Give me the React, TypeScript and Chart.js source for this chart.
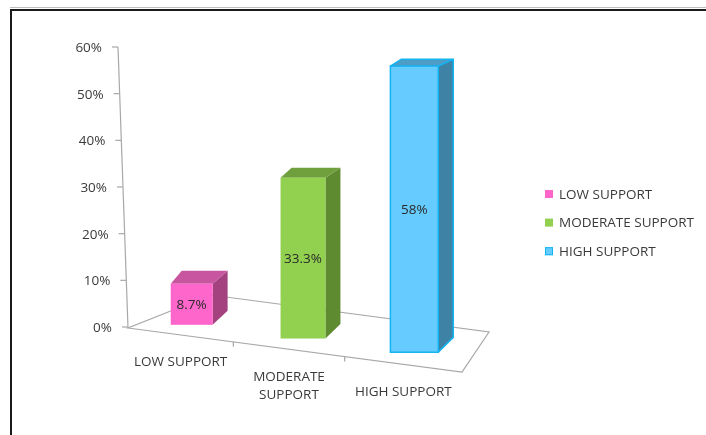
import React, { useEffect, useRef } from "react";
import { Chart, registerables } from "chart.js";

Chart.register(...registerables);

// ---- data ----
const categories = ["LOW SUPPORT", "MODERATE SUPPORT", "HIGH SUPPORT"];
const categoryLines = [["LOW SUPPORT"], ["MODERATE", "SUPPORT"], ["HIGH SUPPORT"]];
const values = [8.7, 33.3, 58];
const valueLabels = ["8.7%", "33.3%", "58%"];
const yTicks = [0, 10, 20, 30, 40, 50, 60];
const yTickLabels = ["0%", "10%", "20%", "30%", "40%", "50%", "60%"];

// ---- styles ----
const frontColors = ["#FF66CC", "#92D050", "#66CCFF"];
const topColors = ["#C8559F", "#709F3D", "#4E9DC6"];
const sideColors = ["#A3427F", "#5E8A30", "#3E82A6"];
const edgeColors = ["", "", "#12B4F2"];
const FONT = "13.5px 'Open Sans'";
const TEXT = "#3A3A3A";
const LINE = "#A8A8A8";

const excel3d = {
  id: "excel3d",
  beforeDatasetsDraw() {
    return false;
  },
  afterDraw(chart: any) {
    const ctx: CanvasRenderingContext2D = chart.ctx;
    const { left, right, top, bottom } = chart.chartArea;
    const xScale = chart.scales.x;
    const yScale = chart.scales.y;
    const slope = 0.1317;
    const frontY = (x: number) => bottom + 1 + slope * (x - left);

    ctx.save();
    // floor
    const fl = [left, bottom + 1];
    const fr = [right, frontY(right)];
    const br = [right + 27, frontY(right) - 40];
    const bl = [left + 83, bottom + 1 - 33];
    ctx.strokeStyle = LINE;
    ctx.lineWidth = 1.2;
    ctx.beginPath();
    ctx.moveTo(fl[0], fl[1]);
    ctx.lineTo(fr[0], fr[1]);
    ctx.lineTo(br[0], br[1]);
    ctx.lineTo(bl[0], bl[1]);
    ctx.closePath();
    ctx.stroke();

    // category boundaries (perspective-compressed)
    const n = categories.length;
    const bounds: number[] = [left];
    for (let i = 1; i < n; i++) {
      const b = (xScale.getPixelForValue(i - 1) + xScale.getPixelForValue(i)) / 2 - 6;
      bounds.push(b);
    }
    bounds.push(right);
    for (let i = 1; i < n; i++) {
      const bx = bounds[i];
      ctx.beginPath();
      ctx.moveTo(bx, frontY(bx));
      ctx.lineTo(bx, frontY(bx) + 5);
      ctx.stroke();
    }

    // y axis (tilted)
    const axisX = (y: number) => left - 10 + (10 * (y - top)) / (bottom - top);
    ctx.beginPath();
    ctx.moveTo(axisX(top), top);
    ctx.lineTo(axisX(bottom), bottom + 1);
    ctx.stroke();
    ctx.font = FONT;
    ctx.fillStyle = TEXT;
    ctx.textAlign = "right";
    ctx.textBaseline = "middle";
    yTicks.forEach((v, i) => {
      const y = yScale.getPixelForValue(v);
      const ax = axisX(y);
      ctx.beginPath();
      ctx.moveTo(ax - 6, y);
      ctx.lineTo(ax, y);
      ctx.stroke();
      ctx.fillText(yTickLabels[i], ax - 16, y + 1);
    });

    // category labels
    ctx.textAlign = "center";
    categoryLines.forEach((lines, i) => {
      const cx = (bounds[i] + bounds[i + 1]) / 2;
      const y0 = frontY(cx) + 27.5;
      lines.forEach((t, k) => ctx.fillText(t, cx, y0 + k * 18));
    });

    // bars
    const meta = chart.getDatasetMeta(0);
    const dyf = (y: number) => 5 + 0.028 * y;
    meta.data.forEach((el: any, i: number) => {
      const p = el.getProps(["x", "y", "base", "width"], true);
      const xc = p.x + 8;
      const shift = -10 + 0.123 * (xc - left);
      const pf = 1 + 0.0002 * (xc - left);
      const w = p.width * (0.88 + 0.00059 * (xc - left));
      const yb = bottom + shift;
      const yt = yb - (p.base - p.y) * pf;
      const xl = xc - w / 2;
      const xr = xc + w / 2;
      const dx = 15;
      const dxL = 11;
      // side
      ctx.fillStyle = sideColors[i];
      ctx.beginPath();
      ctx.moveTo(xr, yt);
      ctx.lineTo(xr + dx, yt - dyf(yt));
      ctx.lineTo(xr + dx, yb - dyf(yb));
      ctx.lineTo(xr, yb);
      ctx.closePath();
      ctx.fill();
      // top
      ctx.fillStyle = topColors[i];
      ctx.beginPath();
      ctx.moveTo(xl, yt);
      ctx.lineTo(xl + dxL, yt - dyf(yt));
      ctx.lineTo(xr + dx, yt - dyf(yt));
      ctx.lineTo(xr, yt);
      ctx.closePath();
      ctx.fill();
      // front
      ctx.fillStyle = frontColors[i];
      ctx.fillRect(xl, yt, w, yb - yt);
      if (edgeColors[i]) {
        ctx.strokeStyle = edgeColors[i];
        ctx.lineWidth = 1.5;
        ctx.strokeRect(xl, yt, w, yb - yt);
        ctx.beginPath();
        ctx.moveTo(xr, yb);
        ctx.lineTo(xr + dx, yb - dyf(yb));
        ctx.lineTo(xr + dx, yt - dyf(yt));
        ctx.lineTo(xl + dxL, yt - dyf(yt));
        ctx.lineTo(xl, yt);
        ctx.moveTo(xr, yt);
        ctx.lineTo(xr + dx, yt - dyf(yt));
        ctx.stroke();
      }
      // data label
      ctx.fillStyle = "#2A2A2A";
      ctx.textAlign = "center";
      ctx.textBaseline = "middle";
      ctx.font = FONT;
      ctx.fillText(valueLabels[i], xc, (yt + yb) / 2 + 1);
    });

    // legend
    ctx.textAlign = "left";
    ctx.textBaseline = "middle";
    categories.forEach((c, i) => {
      const y = 194 + i * 28.6;
      ctx.fillStyle = frontColors[i];
      ctx.fillRect(545, y - 4, 8, 8);
      if (edgeColors[i]) {
        ctx.strokeStyle = edgeColors[i];
        ctx.lineWidth = 1;
        ctx.strokeRect(545.5, y - 3.5, 7, 7);
      }
      ctx.fillStyle = TEXT;
      ctx.fillText(c, 559, y + 1);
    });
    ctx.restore();
  },
};

export default function App() {
  const ref = useRef<HTMLCanvasElement | null>(null);
  useEffect(() => {
    if (!ref.current) return;
    const chart = new Chart(ref.current, {
      type: "bar",
      data: {
        labels: categories,
        datasets: [
          {
            data: values,
            backgroundColor: frontColors,
            barPercentage: 0.41,
            categoryPercentage: 1,
          },
        ],
      },
      options: {
        responsive: false,
        animation: false,
        devicePixelRatio: 1,
        layout: { padding: { left: 128, right: 244, top: 47, bottom: 108 } },
        plugins: { legend: { display: false }, tooltip: { enabled: false } },
        scales: {
          x: { display: false },
          y: { display: false, min: 0, max: 60 },
        },
      },
      plugins: [excel3d],
    });
    return () => chart.destroy();
  }, []);
  return (
    <div style={{ position: "fixed", left: 0, top: 0, width: 706, height: 435, background: "#fff" }}>
      <div style={{ position: "absolute", left: 10, top: 7, width: 696, height: 1, background: "#BDBDBD" }} />
      <div
        style={{
          position: "absolute",
          left: 10,
          top: 9,
          width: 696,
          height: 426,
          borderTop: "2px solid #1a1a1a",
          borderLeft: "2px solid #1a1a1a",
          boxSizing: "border-box",
        }}
      />
      <canvas ref={ref} width={706} height={435} style={{ position: "absolute", left: 0, top: 0 }} />
    </div>
  );
}
